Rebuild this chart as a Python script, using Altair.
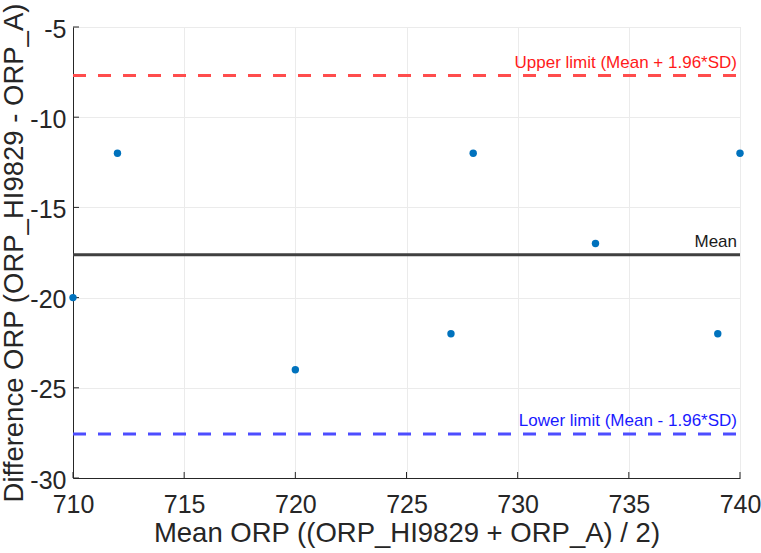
import altair as alt
import pandas as pd

mean_orp = [710, 712, 720, 727, 728, 733.5, 739, 740]
diff_orp = [-20, -12, -24, -22, -12, -17, -22, -12]

line_names = ["Upper limit (Mean + 1.96*SD)", "Mean", "Lower limit (Mean - 1.96*SD)"]
line_values = [-7.69, -17.625, -27.56]
line_colors = ["#FF4D4D", "#404040", "#4D4DFF"]
text_colors = ["#FF1A1A", "#1A1A1A", "#1A1AFF"]
line_dash = [[13, 12], [1, 0], [13, 12]]

x_ticks = [710, 715, 720, 725, 730, 735, 740]
y_ticks = [-30, -25, -20, -15, -10, -5]

pts = pd.DataFrame({"x": mean_orp, "y": diff_orp})
lines = pd.DataFrame({"name": line_names, "y": line_values,
                      "x1": [710] * 3, "x2": [740] * 3})
xt = pd.DataFrame({"v": x_ticks})
yt = pd.DataFrame({"v": y_ticks})

W, H = 667, 451
font = "Liberation Sans"
ink = "#262626"

xs = alt.Scale(domain=[710, 740], nice=False, zero=False)
ys = alt.Scale(domain=[-30, -5], nice=False, zero=False)

common = dict(labelFontSize=25, titleFontSize=27.5, ticks=True, tickSize=0,
              domainColor=ink, labelColor=ink, titleColor=ink, titleFontWeight="normal",
              labelFont=font, titleFont=font, gridColor="#EBEBEB",
              labelFlush=False, labelExpr="'' + datum.value")
xaxis = alt.Axis(values=x_ticks, title="Mean ORP ((ORP_HI9829 + ORP_A) / 2)",
                 labelPadding=14, titlePadding=2, **common)
yaxis = alt.Axis(values=y_ticks, title="Difference ORP (ORP_HI9829 - ORP_A)",
                 labelPadding=7, titlePadding=1, labelOffset=2, **common)

layers = []
# inward tick marks (first layer carries the axes)
layers.append(alt.Chart(xt).mark_rule(color=ink, strokeWidth=1).encode(
    x=alt.X("v:Q", scale=xs, axis=xaxis), y=alt.value(H), y2=alt.value(H - 6)))
layers.append(alt.Chart(yt).mark_rule(color=ink, strokeWidth=1).encode(
    y=alt.Y("v:Q", scale=ys, axis=yaxis), x=alt.value(0), x2=alt.value(6)))

for i in range(3):
    d = lines.iloc[[i]]
    layers.append(alt.Chart(d).mark_rule(strokeWidth=3, color=line_colors[i],
                                         strokeDash=line_dash[i]).encode(
        x=alt.X("x1:Q", scale=xs, axis=xaxis), x2="x2:Q",
        y=alt.Y("y:Q", scale=ys, axis=yaxis)))
    layers.append(alt.Chart(d).mark_text(align="right", baseline="bottom", fontSize=17,
                                         font=font, color=text_colors[i],
                                         dx=-3, dy=-4).encode(
        x=alt.X("x2:Q", scale=xs, axis=xaxis), y=alt.Y("y:Q", scale=ys, axis=yaxis),
        text="name:N"))

layers.append(alt.Chart(pts).mark_circle(size=55, color="#0072BD", opacity=1).encode(
    x=alt.X("x:Q", scale=xs, axis=xaxis),
    y=alt.Y("y:Q", scale=ys, axis=yaxis),
))

chart = alt.layer(*layers).properties(
    width=W, height=H,
    autosize=alt.AutoSizeParams(type="none"),
    padding={"left": 73, "top": 27, "right": 21, "bottom": 75},
).configure_view(stroke=None).configure(background="white")

chart.save("out.html", embed_options={"renderer": "svg", "actions": False})
